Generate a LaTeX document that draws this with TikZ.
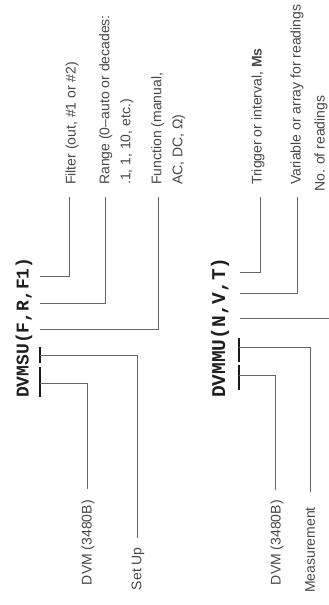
\documentclass[tikz,border=0pt]{standalone}
\usepackage{fontspec}
\setmainfont{Liberation Sans}
\setmonofont{Liberation Mono}
\tikzset{
	lbl/.style={rotate=90, inner sep=0pt, text=black!72, align=left, font=\fontsize{14}{21}\selectfont},
	code/.style={rotate=90, inner sep=0pt, text=black!88, font=\ttfamily\bfseries\fontsize{18}{18}\selectfont},
	lead/.style={draw=black!60, line width=0.7pt},
	tbar/.style={draw=black!90, line width=1.2pt}
}

\begin{document}
\begin{tikzpicture}[x=1pt, y=-1pt]
	\useasboundingbox (0, 0) rectangle (329, 605);
	\clip (0, 0) rectangle (329, 605);
	% set up call
	\node[code, anchor=west] (su) at (24, 398) {DVMSU(F,R,F1)};
	\coordinate (suF1) at (40, 276);
	\coordinate (suR) at (40, 303);
	\coordinate (suF) at (40, 329);
	\coordinate (filtend) at (69, 197);
	\coordinate (rngend) at (105, 197);
	\coordinate (fnend) at (158, 197);
	\node[lbl, anchor=west] (filt) at (72, 185) {Filter (out, \#1 or \#2)};
	\node[lbl, anchor=north west] (rng) at (99, 185) {Range (0--auto or decades:\\.1, 1, 10, etc.)};
	\node[lbl, anchor=north west] (fn) at (151, 185) {Function (manual,\\AC, DC, Ω)};
	\draw[lead] (suF1) -| (filtend);
	\draw[lead] (suR) -| (rngend);
	\draw[lead] (suF) -| (fnend);
	\coordinate (suA1) at (40, 347);
	\coordinate (suA2) at (40, 363);
	\coordinate (suA) at (40, 355);
	\coordinate (suB1) at (40, 367);
	\coordinate (suB2) at (40, 397);
	\coordinate (suB) at (40, 383);
	\coordinate (setupend) at (137, 538);
	\coordinate (dvmend) at (87, 489);
	\draw[tbar] (suA1) -- (suA2);
	\draw[tbar] (suB1) -- (suB2);
	\draw[lead] (suA) -| (setupend);
	\draw[lead] (suB) -| (dvmend);
	\node[lbl, anchor=east] (dvm) at (88, 500) {DVM (3480B)};
	\node[lbl, anchor=east] (setup) at (138, 547) {Set Up};
	% measurement call
	\node[code, anchor=west, font=\ttfamily\bfseries\fontsize{19.5}{19.5}\selectfont] (mu) at (220, 398) {DVMMU(N,V,T)};
	\coordinate (muT) at (240, 272);
	\coordinate (muV) at (240, 293);
	\coordinate (muN) at (240, 318);
	\coordinate (trgend) at (260, 197);
	\coordinate (varend) at (297, 197);
	\coordinate (numend) at (335, 318);
	\node[lbl, anchor=west] (trg) at (258, 185) {Trigger or interval, \textbf{Ms}};
	\node[lbl, anchor=west] (var) at (297, 185) {Variable or array for readings};
	\node[lbl, anchor=west] (num) at (321, 192) {No. of readings};
	\draw[lead] (muT) -| (trgend);
	\draw[lead] (muV) -| (varend);
	\draw[lead] (muN) -- (numend);
	\coordinate (muA1) at (239, 338);
	\coordinate (muA2) at (239, 362);
	\coordinate (muA) at (239, 347);
	\coordinate (muB1) at (239, 365);
	\coordinate (muB2) at (239, 390);
	\coordinate (muB) at (239, 375);
	\coordinate (measend) at (310, 492);
	\coordinate (dvmtwoend) at (275, 490);
	\draw[tbar] (muA1) -- (muA2);
	\draw[tbar] (muB1) -- (muB2);
	\draw[lead] (muA) -| (measend);
	\draw[lead] (muB) -| (dvmtwoend);
	\node[lbl, anchor=east] (dvmtwo) at (277, 500) {DVM (3480B)};
	\node[lbl, anchor=east] (meas) at (310, 507) {Measurement};
\end{tikzpicture}
\end{document}
